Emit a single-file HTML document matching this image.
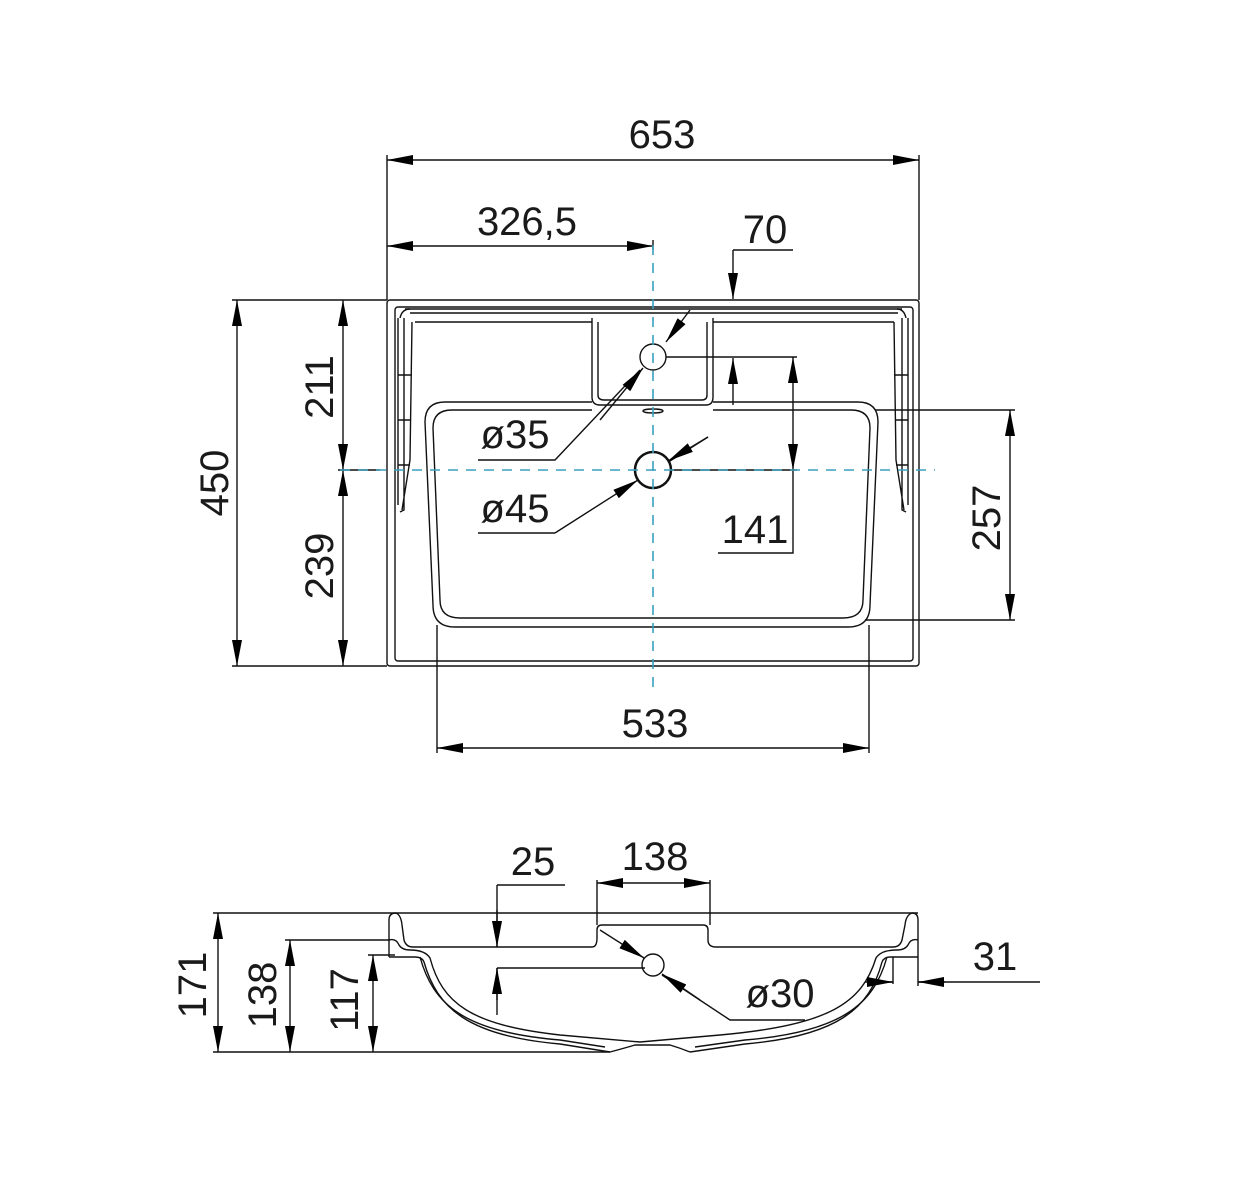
<!DOCTYPE html>
<html><head><meta charset="utf-8"><style>
html,body{margin:0;padding:0;background:#fff;}
svg{display:block;}
text{font-family:"Liberation Sans",sans-serif;font-size:40px;fill:#1a1a1a;font-weight:normal;}
</style></head><body>
<svg width="1235" height="1200" viewBox="0 0 1235 1200" xmlns="http://www.w3.org/2000/svg">
<defs>
<marker id="a" viewBox="0 0 26 10" refX="26" refY="5" markerWidth="26" markerHeight="10" markerUnits="userSpaceOnUse" orient="auto-start-reverse"><path d="M0,0 L26,5 L0,10 Z" fill="#000"/></marker>
</defs>
<g stroke="#111" stroke-width="1.4" fill="none">
<!-- top view outer -->
<rect x="387" y="300" width="532" height="366" rx="3"/>
<rect x="395" y="307" width="518" height="354" rx="3"/>
<!-- deck lines -->
<path d="M405,309 H902 M410,313 H898 M415,322 H592 M713,322 H894"/>
<path d="M400,318 Q402,309 410,309 M906,318 Q904,309 897,309"/>
<!-- side ribs -->
<path d="M398,318 L398,505 M404,318 L404,510 L400,512 M412,322 L410,460 L402,510 M398,375 H412 M398,420 H410 M398,465 H410"/>
<path d="M908,318 L908,505 M902,318 L902,510 L906,512 M894,322 L896,460 L904,510 M894,375 H908 M896,420 H908 M896,465 H908"/>
<!-- notch -->
<path d="M592,318 V397 Q592,405 600,405 H706 Q713,405 713,397 V318"/>
<path d="M598,322 V395 Q598,400 604,400 H702 Q707,400 707,395 V322"/>
<!-- basin -->
<path d="M592,402 H445 Q425,402 425,422 L433,605 Q433,627 455,627 H848 Q870,627 870,605 L878,422 Q878,402 858,402 H713"/>
<path d="M592,410 H452 Q433,410 433,428 L440,600 Q440,618 460,618 H843 Q863,618 863,600 L870,428 Q870,410 851,410 H713"/>
<ellipse cx="653" cy="411" rx="10" ry="2"/>
<!-- holes -->
<circle cx="653" cy="357" r="13"/>
<circle cx="653" cy="470" r="18" stroke-width="2.5"/>
<!-- dims top -->
<path d="M387,155 V300 M919,155 V300 M653,240 V250"/>
<line x1="387" y1="160" x2="919" y2="160" marker-start="url(#a)" marker-end="url(#a)"/>
<line x1="387" y1="246" x2="653" y2="246" marker-start="url(#a)" marker-end="url(#a)"/>
<path d="M733,250 H793"/>
<line x1="733" y1="250" x2="733" y2="299" marker-end="url(#a)"/>
<line x1="733" y1="405" x2="733" y2="358" marker-end="url(#a)"/>
<!-- left dims -->
<path d="M232,300 H387 M232,666 H387 M338,470 H380"/>
<line x1="237" y1="300" x2="237" y2="666" marker-start="url(#a)" marker-end="url(#a)"/>
<line x1="343" y1="300" x2="343" y2="470" marker-start="url(#a)" marker-end="url(#a)"/>
<line x1="343" y1="470" x2="343" y2="666" marker-start="url(#a)" marker-end="url(#a)"/>
<!-- 257 -->
<path d="M875,410 H1015 M865,620 H1015"/>
<line x1="1010" y1="410" x2="1010" y2="620" marker-start="url(#a)" marker-end="url(#a)"/>
<!-- 141 -->
<path d="M666,357 H797 M671,470 H797 M718,553 H793 V470"/>
<line x1="793" y1="357" x2="793" y2="470" marker-start="url(#a)" marker-end="url(#a)"/>
<!-- leaders -->
<path d="M478,460 H555 L640,370 M708,437 L670,461 M555,533 H478"/>
<line x1="690" y1="310" x2="666" y2="342" marker-end="url(#a)"/>
<line x1="600" y1="420" x2="643" y2="368" marker-end="url(#a)"/>
<line x1="555" y1="533" x2="638" y2="480" marker-end="url(#a)"/>
<line x1="708" y1="437" x2="668" y2="461" marker-end="url(#a)"/>
<!-- 533 -->
<path d="M437,625 V753 M869,625 V753"/>
<line x1="437" y1="748" x2="869" y2="748" marker-start="url(#a)" marker-end="url(#a)"/>
<!-- side view -->
<path d="M213,913 H918"/>
<path d="M213,1052 H610 M610,1052 Q625,1048 635,1045 H670 Q680,1048 690,1052"/>
<!-- rim -->
<path d="M389,957 V920 Q389,913 396,913 Q401,915 402,925 L404,940 Q406,947 413,947 H592 Q597,947 597,938 V930 Q597,925 602,925 H703 Q708,925 708,930 V940 Q708,947 716,947 H893 Q900,947 902,940 L905,925 Q906,915 912,913 Q918,913 918,920 V957"/>
<path d="M389,940 Q396,938 399,945 Q402,950 410,950 M918,940 Q911,938 908,945 Q905,950 897,950"/>
<path d="M389,957 H415 Q422,957 424,962 M918,957 H890 Q884,957 882,962"/>
<!-- bowl -->
<path d="M410,950 Q425,950 430,958 C442,1003 470,1025 560,1035 L640,1042 L720,1035 C830,1025 862,1003 876,958 Q881,950 897,950"/>
<path d="M424,962 C437,1008 468,1036 560,1044 L610,1052 M690,1052 L745,1044 C838,1036 870,1008 882,962"/>
<path d="M420,957 C433,1004 463,1032 560,1040 L605,1047 M695,1047 L745,1040 C842,1032 874,1004 887,957"/>
<circle cx="653" cy="965" r="11"/>
<!-- side dims -->
<line x1="218" y1="913" x2="218" y2="1052" marker-start="url(#a)" marker-end="url(#a)"/>
<path d="M285,940 H390 M368,955 H395"/>
<line x1="290" y1="940" x2="290" y2="1052" marker-start="url(#a)" marker-end="url(#a)"/>
<line x1="373" y1="955" x2="373" y2="1052" marker-start="url(#a)" marker-end="url(#a)"/>
<path d="M497,885 H565 M497,885 V947 M497,968 H645 M497,968 V1015"/>
<line x1="497" y1="910" x2="497" y2="947" marker-end="url(#a)"/>
<line x1="497" y1="1000" x2="497" y2="968" marker-end="url(#a)"/>
<path d="M597,880 V925 M710,880 V925"/>
<line x1="597" y1="883" x2="710" y2="883" marker-start="url(#a)" marker-end="url(#a)"/>
<line x1="600" y1="930" x2="644" y2="958" marker-end="url(#a)"/>
<path d="M662,975 L730,1020 H805"/>
<line x1="700" y1="1000" x2="662" y2="974" marker-end="url(#a)"/>
<path d="M893,957 V984 M918,957 V986 M870,982 H893 M918,982 H1040"/>
<line x1="865" y1="982" x2="893" y2="982" marker-end="url(#a)"/>
<line x1="945" y1="982" x2="918" y2="982" marker-end="url(#a)"/>
</g>
<!-- center lines -->
<g stroke="#3a9fc0" stroke-width="1.6" stroke-dasharray="10,8" fill="none">
<line x1="653" y1="245" x2="653" y2="695"/>
<line x1="340" y1="470" x2="935" y2="470"/>
</g>
<!-- texts -->
<text x="662" y="148" text-anchor="middle">653</text>
<text x="527" y="235" text-anchor="middle">326,5</text>
<text x="765" y="243" text-anchor="middle">70</text>
<text x="515" y="448" text-anchor="middle">ø35</text>
<text x="515" y="522" text-anchor="middle">ø45</text>
<text x="755" y="543" text-anchor="middle">141</text>
<text x="655" y="737" text-anchor="middle">533</text>
<text transform="translate(228,483) rotate(-90)" text-anchor="middle">450</text>
<text transform="translate(333,387) rotate(-90)" text-anchor="middle">211</text>
<text transform="translate(333,566) rotate(-90)" text-anchor="middle">239</text>
<text transform="translate(1000,518) rotate(-90)" text-anchor="middle">257</text>
<text x="533" y="875" text-anchor="middle">25</text>
<text x="655" y="870" text-anchor="middle">138</text>
<text x="995" y="970" text-anchor="middle">31</text>
<text x="780" y="1007" text-anchor="middle">ø30</text>
<text transform="translate(206,985) rotate(-90)" text-anchor="middle">171</text>
<text transform="translate(276,995) rotate(-90)" text-anchor="middle">138</text>
<text transform="translate(358,1000) rotate(-90)" text-anchor="middle">117</text>
</svg>
</body></html>
